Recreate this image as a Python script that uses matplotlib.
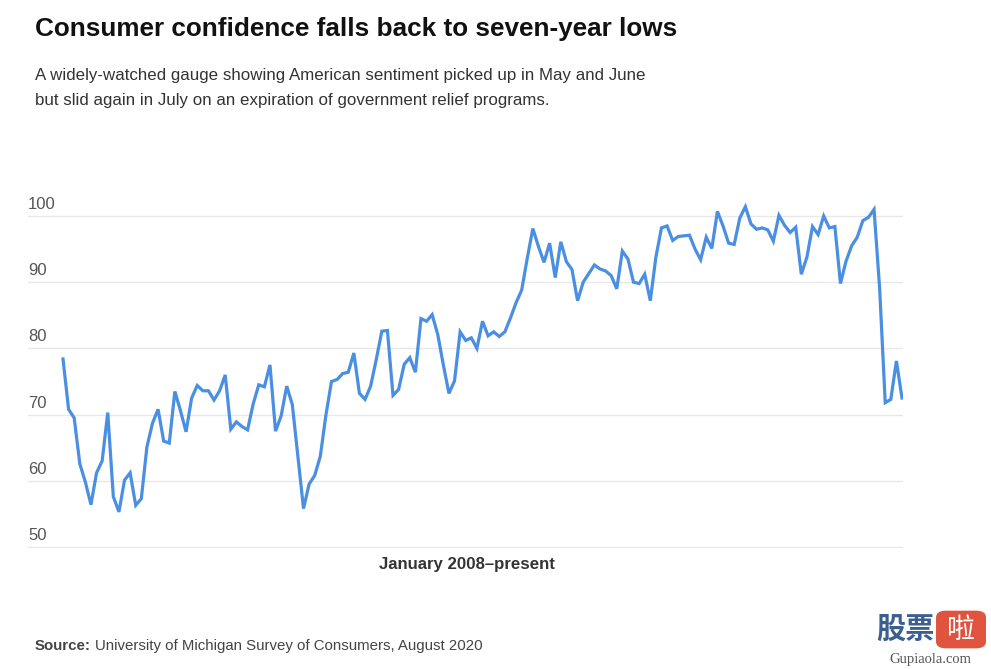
import matplotlib
matplotlib.use("Agg")
import matplotlib.pyplot as plt
from matplotlib.patches import FancyBboxPatch
import numpy as np

# Monthly index, Jan 2008 - Jul 2020
values_2008 = [78.4, 70.8, 69.5, 62.6, 59.8, 56.4, 61.2, 63.0, 70.3, 57.6, 55.3, 60.1]
values_2009 = [61.2, 56.3, 57.3, 65.1, 68.7, 70.8, 66.0, 65.7, 73.5, 70.6, 67.4, 72.5]
values_2010 = [74.4, 73.6, 73.6, 72.2, 73.6, 76.0, 67.8, 68.9, 68.2, 67.7, 71.6, 74.5]
values_2011 = [74.2, 77.5, 67.5, 69.8, 74.3, 71.5, 63.7, 55.8, 59.5, 60.8, 63.7, 69.9]
values_2012 = [75.0, 75.3, 76.2, 76.4, 79.3, 73.2, 72.3, 74.3, 78.3, 82.6, 82.7, 72.9]
values_2013 = [73.8, 77.6, 78.6, 76.4, 84.5, 84.1, 85.1, 82.1, 77.5, 73.2, 75.1, 82.5]
values_2014 = [81.2, 81.6, 80.0, 84.1, 81.9, 82.5, 81.8, 82.5, 84.6, 86.9, 88.8, 93.6]
values_2015 = [98.1, 95.4, 93.0, 95.9, 90.7, 96.1, 93.1, 91.9, 87.2, 90.0, 91.3, 92.6]
values_2016 = [92.0, 91.7, 91.0, 89.0, 94.7, 93.5, 90.0, 89.8, 91.2, 87.2, 93.8, 98.2]
values_2017 = [98.5, 96.3, 96.9, 97.0, 97.1, 95.0, 93.4, 96.8, 95.1, 100.7, 98.5, 95.9]
values_2018 = [95.7, 99.7, 101.4, 98.8, 98.0, 98.2, 97.9, 96.2, 100.1, 98.6, 97.5, 98.3]
values_2019 = [91.2, 93.8, 98.4, 97.2, 100.0, 98.2, 98.4, 89.8, 93.2, 95.5, 96.8, 99.3]
values_2020 = [99.8, 101.0, 89.1, 71.8, 72.3, 78.1, 72.5]

y_ticks = [50, 60, 70, 80, 90, 100]
y_tick_labels = ["50", "60", "70", "80", "90", "100"]

title = "Consumer confidence falls back to seven-year lows"
subtitle = ("A widely-watched gauge showing American sentiment picked up in May and June\n"
            "but slid again in July on an expiration of government relief programs.")
x_label = "January 2008\u2013present"
source_bold = "Source:"
source_text = "University of Michigan Survey of Consumers, August 2020"

values = (values_2008 + values_2009 + values_2010 + values_2011 + values_2012 +
          values_2013 + values_2014 + values_2015 + values_2016 + values_2017 +
          values_2018 + values_2019 + values_2020)
months = np.arange(len(values))

plt.rcParams['font.family'] = ['Liberation Sans', 'DejaVu Sans']

W, H = 991, 669
fig = plt.figure(figsize=(W / 100, H / 100), dpi=100)
fig.patch.set_facecolor("white")

# axes: px 28..903 horizontally, 200..548 vertically
ax_left, ax_right = 28, 903
ax_top, ax_bottom = 200, 548
ax = fig.add_axes([ax_left / W, 1 - ax_bottom / H, (ax_right - ax_left) / W, (ax_bottom - ax_top) / H])

px_per_month = (902 - 63) / (len(values) - 1)
x0 = -(63 - ax_left) / px_per_month
x1 = (len(values) - 1) + (ax_right - 902) / px_per_month
ax.set_xlim(x0, x1)
px_per_unit = (547 - 216) / 50
ylo = 50 - (ax_bottom - 547) / px_per_unit
yhi = 100 + (216 - ax_top) / px_per_unit
ax.set_ylim(ylo, yhi)

for t in y_ticks:
    ax.axhline(t, color="#e8e8e8", lw=1.0, zorder=1)
for t, lab in zip(y_ticks, y_tick_labels):
    ax.text(x0, t + 0.6, lab, ha="left", va="bottom", fontsize=12, color="#555555")

ax.plot(months, values, color="#4a8fe2", lw=2.3, solid_joinstyle="miter", zorder=3)

for s in ax.spines.values():
    s.set_visible(False)
ax.set_xticks([])
ax.set_yticks([])

fig.text(35 / W, 1 - 29 / H, title, fontsize=18.8, fontweight="bold", color="#111111",
         ha="left", va="center")
fig.text(35 / W, 1 - 88 / H, subtitle, fontsize=12.2, color="#333333", ha="left",
         va="center", linespacing=1.9)
fig.text(467 / W, 1 - 565 / H, x_label, fontsize=12.1, fontweight="bold", color="#333333",
         ha="center", va="center")
t1 = fig.text(35 / W, 1 - 646 / H, source_bold, fontsize=10.8, fontweight="bold",
              color="#444444", ha="left", va="center")
fig.canvas.draw()
bb = t1.get_window_extent()
fig.text((bb.x1 + 4) / W, 1 - 646 / H, source_text, fontsize=10.8, color="#444444",
         ha="left", va="center")

# watermark
fig.text(905 / W, 1 - 629 / H, "股票", fontsize=21, fontweight="bold", color="#3d5f8f",
         family=["Noto Sans CJK SC", "DejaVu Sans"], ha="center", va="center")
box = FancyBboxPatch((938 / W, 1 - 647 / H), 46 / W, 35 / H,
                     boxstyle="round,pad=0.002,rounding_size=0.01",
                     transform=fig.transFigure, facecolor="#e0533f", edgecolor="none")
fig.patches.append(box)
fig.text(961 / W, 1 - 630 / H, "啦", fontsize=20, color="white",
         family=["Noto Sans CJK SC", "DejaVu Sans"], ha="center", va="center")
fig.text(930 / W, 1 - 660 / H, "Gupiaola.com", fontsize=10.5, color="#555555",
         family=["Liberation Serif", "DejaVu Serif"], ha="center", va="center")

fig.savefig("out.png", dpi=100, facecolor="white")
